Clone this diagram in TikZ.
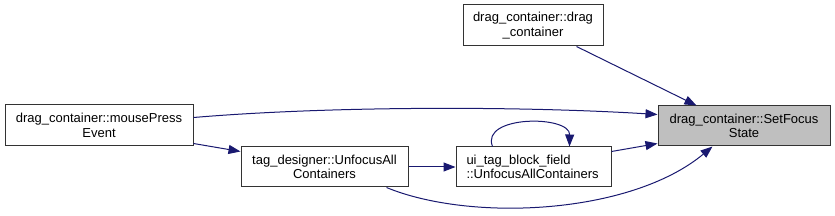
\documentclass[tikz,border=0pt]{standalone}
\usepackage{fontspec}
\setmainfont{Liberation Sans}
\usetikzlibrary{arrows.meta,calc}
\definecolor{edgeblue}{HTML}{191970}
\definecolor{hlgray}{HTML}{BFBFBF}
\begin{document}
\begin{tikzpicture}[x=1pt,y=-1pt,
  box/.style={draw=black!80, line width=1pt, rectangle, inner sep=0pt, align=center,
    font=\fontsize{13}{14.5}\selectfont},
  edge/.style={draw=edgeblue, line width=1pt, -{Triangle[length=12pt,width=9pt]}}]
\useasboundingbox (0,0) rectangle (835,216);
\node[box, minimum width=188pt, minimum height=41pt] (mp) at (99,125.5) {drag\_container::mousePress\\Event};
\node[box, minimum width=167pt, minimum height=40pt] (td) at (324.5,167) {tag\_designer::UnfocusAll\\Containers};
\node[box, minimum width=155pt, minimum height=40pt, align=left, text width=134pt] (ui) at (533.5,167) {ui\_tag\_block\_field\\::UnfocusAllContainers};
\node[box, minimum width=140pt, minimum height=41pt] (dc) at (533,25.5) {drag\_container::drag\\\_container};
\node[box, fill=hlgray, minimum width=172pt, minimum height=40pt] (sf) at (744,126) {drag\_container::SetFocus\\State};

\draw[edge] ($(dc.south west)+(114,0)$) -- ($(sf.north west)+(39,0)$);
\draw[edge] ($(mp.north east)+(0,13)$) .. controls (330,106) and (520,106) .. ($(sf.north west)+(0,9)$);
\draw[edge] ($(mp.south east)+(0,-3)$) -- ($(td.north west)+(0,5)$);
\draw[edge] (td.east) -- (ui.west);
\draw[edge] ($(ui.north west)+(37,0)$) .. controls (480,115) and (570,115) .. ($(ui.north west)+(114,0)$);
\draw[edge] ($(ui.north east)+(0,5)$) -- ($(sf.south west)+(0,-3)$);
\draw[edge] ($(td.south west)+(146,0)$) .. controls (470,222) and (630,215) .. ($(sf.south west)+(55,0)$);
\end{tikzpicture}
\end{document}
